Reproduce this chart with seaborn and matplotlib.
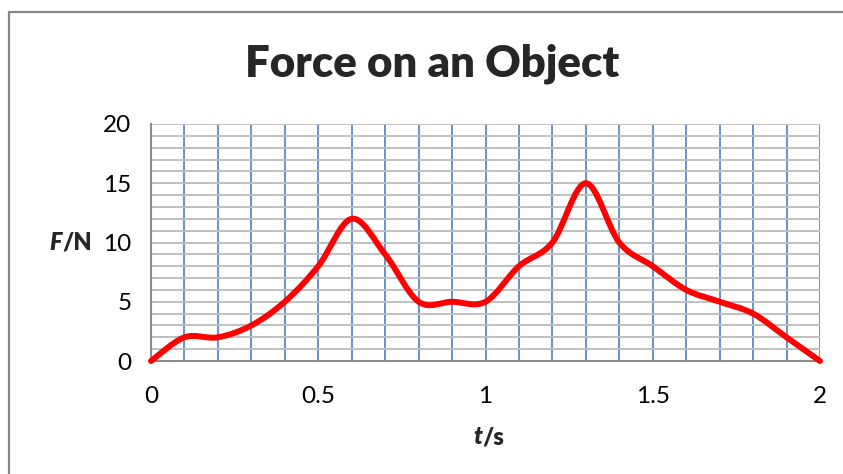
import numpy as np
import matplotlib
matplotlib.use("Agg")
import matplotlib.pyplot as plt
from matplotlib.path import Path
from matplotlib.patches import PathPatch
from matplotlib.lines import Line2D
import seaborn as sns

# ---- data ----
t_values = [0.0, 0.1, 0.2, 0.3, 0.4, 0.5, 0.6, 0.7, 0.8, 0.9, 1.0,
            1.1, 1.2, 1.3, 1.4, 1.5, 1.6, 1.7, 1.8, 1.9, 2.0]
force_values = [0, 2, 2, 3, 5, 8, 12, 9, 5, 5, 5,
                8, 10, 15, 10, 8, 6, 5, 4, 2, 0]
x_ticks = [0, 0.5, 1, 1.5, 2]
x_tick_labels = ["0", "0.5", "1", "1.5", "2"]
y_ticks = [0, 5, 10, 15, 20]
y_tick_labels = ["0", "5", "10", "15", "20"]
title_text = "Force on an Object"

sns.set_theme(style="white")
plt.rcParams['font.family'] = ['Lato', 'DejaVu Sans']

fig = plt.figure(figsize=(8.43, 4.74), dpi=100)
ax = fig.add_axes([151/843, 1 - 361/474, (820 - 151)/843, (361 - 124)/474])

ax.set_xlim(0, 2)
ax.set_ylim(0, 20)

# gridlines every 0.1 s (blue) and every 1 N (grey)
for xv in np.arange(1, 21) / 10.0:
    ax.axvline(xv, color='#5B8AC6', lw=1.3, zorder=0)
for yv in np.arange(1, 21):
    ax.axhline(yv, color='#C0C0C0', lw=1.4, zorder=0)

# smooth (Excel-like) curve via cubic Bezier path
pts = np.column_stack([t_values, force_values]).astype(float)
n = len(pts)
verts = [tuple(pts[0])]
codes = [Path.MOVETO]
for i in range(n - 1):
    p0 = pts[i - 1] if i > 0 else pts[i]
    p1 = pts[i]
    p2 = pts[i + 1]
    p3 = pts[i + 2] if i + 2 < n else pts[i + 1]
    c1 = p1 + (p2 - p0) / 6.0
    c2 = p2 - (p3 - p1) / 6.0
    verts += [tuple(c1), tuple(c2), tuple(p2)]
    codes += [Path.CURVE4] * 3
patch = PathPatch(Path(verts, codes), facecolor='none', edgecolor='#FF0000',
                  lw=4.3, capstyle='round', joinstyle='round', zorder=3,
                  clip_on=False)
ax.add_patch(patch)
sns.lineplot(x=t_values, y=force_values, ax=ax, color='#FF0000', lw=0,
             legend=False, zorder=2)

ax.set_xticks(x_ticks)
ax.set_xticklabels(x_tick_labels)
ax.set_yticks(y_ticks)
ax.set_yticklabels(y_tick_labels)
ax.tick_params(which='major', length=6, width=1.2, color='#8C8C8C',
               labelsize=17.5, labelcolor='black', pad=8)
ax.tick_params(axis='x', pad=12)
ax.grid(False)

for s in ['top', 'right']:
    ax.spines[s].set_visible(False)
for s in ['left', 'bottom']:
    ax.spines[s].set_color('#8C8C8C')
    ax.spines[s].set_linewidth(1.5)
    ax.spines[s].set_zorder(1)

# title
fig.text(432/843, 1 - 64/474, title_text, ha='center', va='center',
         fontsize=31.5, fontweight='heavy')

# axis labels: italic bold quantity + bold unit
ylab_y = 1 - 243/474
fig.text(62/843, ylab_y, "F", ha='right', va='center', fontsize=17,
         fontweight='heavy', fontstyle='italic')
fig.text(62/843, ylab_y, "/N", ha='left', va='center', fontsize=17,
         fontweight='heavy')
xlab_y = 1 - 437/474
fig.text(482/843, xlab_y, "t", ha='right', va='center', fontsize=17,
         fontweight='heavy', fontstyle='italic')
fig.text(482/843, xlab_y, "/s", ha='left', va='center', fontsize=17,
         fontweight='heavy')

# outer chart border (left and top visible)
fig.add_artist(Line2D([8.5/843, 8.5/843], [0, 1 - 12/474], color='#868686',
                      lw=1.6, transform=fig.transFigure))
fig.add_artist(Line2D([8.5/843, 1], [1 - 12/474, 1 - 12/474], color='#868686',
                      lw=1.6, transform=fig.transFigure))

fig.savefig("out.png", dpi=100)
